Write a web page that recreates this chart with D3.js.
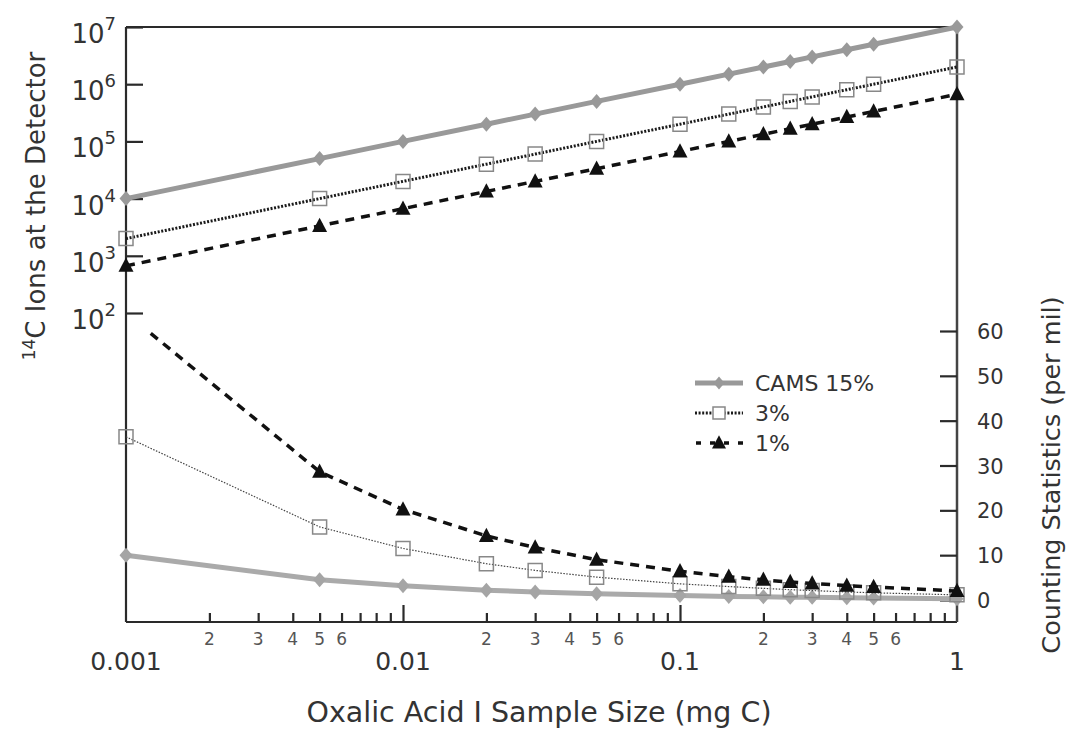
<!DOCTYPE html>
<html><head><meta charset="utf-8">
<script src="https://cdn.jsdelivr.net/npm/d3@7"></script>
<style>body{margin:0;background:#fff} text{font-family:"DejaVu Sans",sans-serif;fill:#333}</style>
</head><body><svg id="c" width="1076" height="735"></svg>
<script>
// ---- data ----
const sampleSize = [0.001, 0.005, 0.01, 0.02, 0.03, 0.05, 0.1, 0.15, 0.2, 0.25, 0.3, 0.4, 0.5, 1];
const ionsCAMS = [1e4, 5e4, 1e5, 2e5, 3e5, 5e5, 1e6, 1.5e6, 2e6, 2.5e6, 3e6, 4e6, 5e6, 1e7];
const ions3 = [2e3, 1e4, 2e4, 4e4, 6e4, 1e5, 2e5, 3e5, 4e5, 5e5, 6e5, 8e5, 1e6, 2e6];
const ions1 = [667, 3333, 6667, 13333, 20000, 33333, 66667, 100000, 133333, 166667, 200000, 266667, 333333, 666667];
const statsCAMS = [10, 4.5, 3.2, 2.2, 1.8, 1.4, 1.0, 0.8, 0.7, 0.6, 0.6, 0.5, 0.45, 0.3];
const stats3 = [36.4, 16.3, 11.5, 8.1, 6.6, 5.1, 3.6, 3.0, 2.6, 2.3, 2.1, 1.8, 1.6, 1.15];
const stats1 = [64, 28.6, 20.2, 14.3, 11.7, 9.0, 6.4, 5.2, 4.5, 4.0, 3.7, 3.2, 2.9, 2.0];
const seriesNames = ["CAMS 15%", "3%", "1%"];
const ionTicks = [1e2, 1e3, 1e4, 1e5, 1e6, 1e7];
const ionTickExp = ["2", "3", "4", "5", "6", "7"];
const statTicks = [0, 10, 20, 30, 40, 50, 60];
const majorXTicks = [0.001, 0.01, 0.1, 1];
const majorXLabels = ["0.001", "0.01", "0.1", "1"];
const minorXLabelDigits = [2, 3, 4, 5, 6];
const xTitle = "Oxalic Acid I Sample Size (mg C)";
const yLeftTitle = "C Ions at the Detector";
const yRightTitle = "Counting Statistics (per mil)";

// ---- layout ----
const L = 126, R = 957, T = 27, B = 622;
const svg = d3.select("#c");
const x = d3.scaleLog().domain([0.001, 1]).range([L, R]);
const yIon = d3.scaleLog().domain([1e2, 1e7]).range([313, T]);
const yStat = d3.scaleLinear().domain([0, 60]).range([600, 331]);

svg.append("defs").append("clipPath").attr("id", "lowclip")
  .append("rect").attr("x", 0).attr("y", yStat(60)).attr("width", 1076).attr("height", 735 - yStat(60));

const frameColor = "#2a2a2a";
// frame
svg.append("line").attr("x1", L).attr("x2", R).attr("y1", T).attr("y2", T).attr("stroke", frameColor).attr("stroke-width", 2);
svg.append("line").attr("x1", L).attr("x2", R).attr("y1", B).attr("y2", B).attr("stroke", frameColor).attr("stroke-width", 2.2);
svg.append("line").attr("x1", L).attr("x2", L).attr("y1", T).attr("y2", B).attr("stroke", frameColor).attr("stroke-width", 2.2);
svg.append("line").attr("x1", R).attr("x2", R).attr("y1", T).attr("y2", B).attr("stroke", "#444").attr("stroke-width", 2.5);

function styleAxis(g) {
  g.select(".domain").remove();
  g.selectAll(".tick line").attr("stroke", frameColor).attr("stroke-width", 2.2);
  g.selectAll(".tick text").remove();
}

// left log axis
svg.append("g").attr("transform", `translate(${L},0)`)
  .call(d3.axisRight(yIon).tickValues(ionTicks).tickSize(17).tickFormat(""))
  .call(styleAxis);
ionTicks.forEach((v, i) => {
  const t = svg.append("text").attr("x", 116).attr("y", yIon(v) + 16)
    .attr("text-anchor", "end").style("font-size", "26px");
  t.append("tspan").text("10");
  t.append("tspan").attr("dy", -13).style("font-size", "18px").text(ionTickExp[i]);
});

// right linear axis
svg.append("g").attr("transform", `translate(${R},0)`)
  .call(d3.axisLeft(yStat).tickValues(statTicks).tickSize(17).tickFormat(""))
  .call(styleAxis);
statTicks.forEach(v => {
  svg.append("text").attr("x", 977).attr("y", yStat(v) + 8).style("font-size", "21px").text(v);
});

// bottom log axis
const minorTicks = [];
[0.001, 0.01, 0.1].forEach(d => { for (let k = 2; k <= 9; k++) minorTicks.push(k * d); });
svg.append("g").attr("transform", `translate(0,${B})`)
  .call(d3.axisTop(x).tickValues(minorTicks).tickSize(9).tickFormat(""))
  .call(styleAxis);
svg.append("g").attr("transform", `translate(0,${B})`)
  .call(d3.axisTop(x).tickValues([0.01, 0.1]).tickSize(17).tickFormat(""))
  .call(styleAxis);
[0.001, 0.01, 0.1].forEach(d => {
  minorXLabelDigits.forEach(k => {
    svg.append("text").attr("x", x(k * d)).attr("y", 645).attr("text-anchor", "middle")
      .style("font-size", "17px").style("fill", "#555").text(k);
  });
});
majorXTicks.forEach((v, i) => {
  svg.append("text").attr("x", x(v)).attr("y", 670).attr("text-anchor", "middle")
    .style("font-size", "25px").text(majorXLabels[i]);
});

// titles
svg.append("text").attr("x", 539).attr("y", 722).attr("text-anchor", "middle")
  .style("font-size", "28.5px").text(xTitle);
const lt = svg.append("text").attr("transform", "translate(45,206) rotate(-90)")
  .attr("text-anchor", "middle").style("font-size", "26px");
lt.append("tspan").attr("dy", -10).style("font-size", "17px").text("14");
lt.append("tspan").attr("dy", 10).text(yLeftTitle);
svg.append("text").attr("transform", "translate(1060,475) rotate(-90)")
  .attr("text-anchor", "middle").style("font-size", "25.5px").text(yRightTitle);

// marker shapes
function diamond(cx, cy, w, h) { return `M${cx},${cy - h}L${cx + w},${cy}L${cx},${cy + h}L${cx - w},${cy}Z`; }
function square(cx, cy, s) { return `M${cx - s},${cy - s}h${2 * s}v${2 * s}h${-2 * s}Z`; }
function tri(cx, cy, s) { return `M${cx},${cy - s * 1.1}L${cx + s},${cy + s * 0.8}L${cx - s},${cy + s * 0.8}Z`; }

const series = [
  { name: seriesNames[0], ions: ionsCAMS, stats: statsCAMS, type: "diamond" },
  { name: seriesNames[1], ions: ions3, stats: stats3, type: "square" },
  { name: seriesNames[2], ions: ions1, stats: stats1, type: "triangle" }
];

function drawSeries(g, s, yScale, vals, low) {
  const pts = sampleSize.map((v, i) => [x(v), yScale(vals[i])]);
  const line = d3.line();
  const p = g.append("path").attr("d", line(pts)).attr("fill", "none");
  if (s.type === "diamond") {
    p.attr("stroke", low ? "#aaa" : "#999").attr("stroke-width", 5);
    pts.forEach(q => g.append("path").attr("d", diamond(q[0], q[1], 6.5, 7.5)).attr("fill", low ? "#a5a5a5" : "#999"));
  } else if (s.type === "square") {
    p.attr("stroke", low ? "#444" : "#1a1a1a").attr("stroke-width", low ? 1.2 : 3).attr("stroke-dasharray", low ? "1.5,1.5" : "2,1.6");
    pts.forEach(q => g.append("path").attr("d", square(q[0], q[1], 7)).attr("fill", "none").attr("stroke", "#888").attr("stroke-width", 1.5));
  } else {
    p.attr("stroke", "#111").attr("stroke-width", 3.5).attr("stroke-dasharray", "9,7");
    pts.forEach(q => g.append("path").attr("d", tri(q[0], q[1], 7.5)).attr("fill", "#111"));
  }
}

const gTop = svg.append("g");
const gLow = svg.append("g").attr("clip-path", "url(#lowclip)");
series.forEach(s => {
  drawSeries(gTop, s, yIon, s.ions, false);
  drawSeries(gLow, s, yStat, s.stats, true);
});

// legend
const legY = [383, 413, 443];
series.forEach((s, i) => {
  const y = legY[i];
  const ln = svg.append("line").attr("x1", 695).attr("x2", 743).attr("y1", y).attr("y2", y);
  if (s.type === "diamond") {
    ln.attr("stroke", "#999").attr("stroke-width", 5);
    svg.append("path").attr("d", diamond(719, y, 5.5, 6.5)).attr("fill", "#999");
  } else if (s.type === "square") {
    ln.attr("stroke", "#1a1a1a").attr("stroke-width", 3).attr("stroke-dasharray", "2,1.6");
    svg.append("path").attr("d", square(719, y, 6)).attr("fill", "#fff").attr("stroke", "#888").attr("stroke-width", 1.5);
  } else {
    ln.attr("stroke", "#111").attr("stroke-width", 3.5).attr("stroke-dasharray", "5,9").attr("stroke-dashoffset", -1);
    svg.append("path").attr("d", tri(719, y, 7)).attr("fill", "#111");
  }
  svg.append("text").attr("x", 755).attr("y", y + 8).style("font-size", "22px").text(s.name);
});
</script></body></html>
